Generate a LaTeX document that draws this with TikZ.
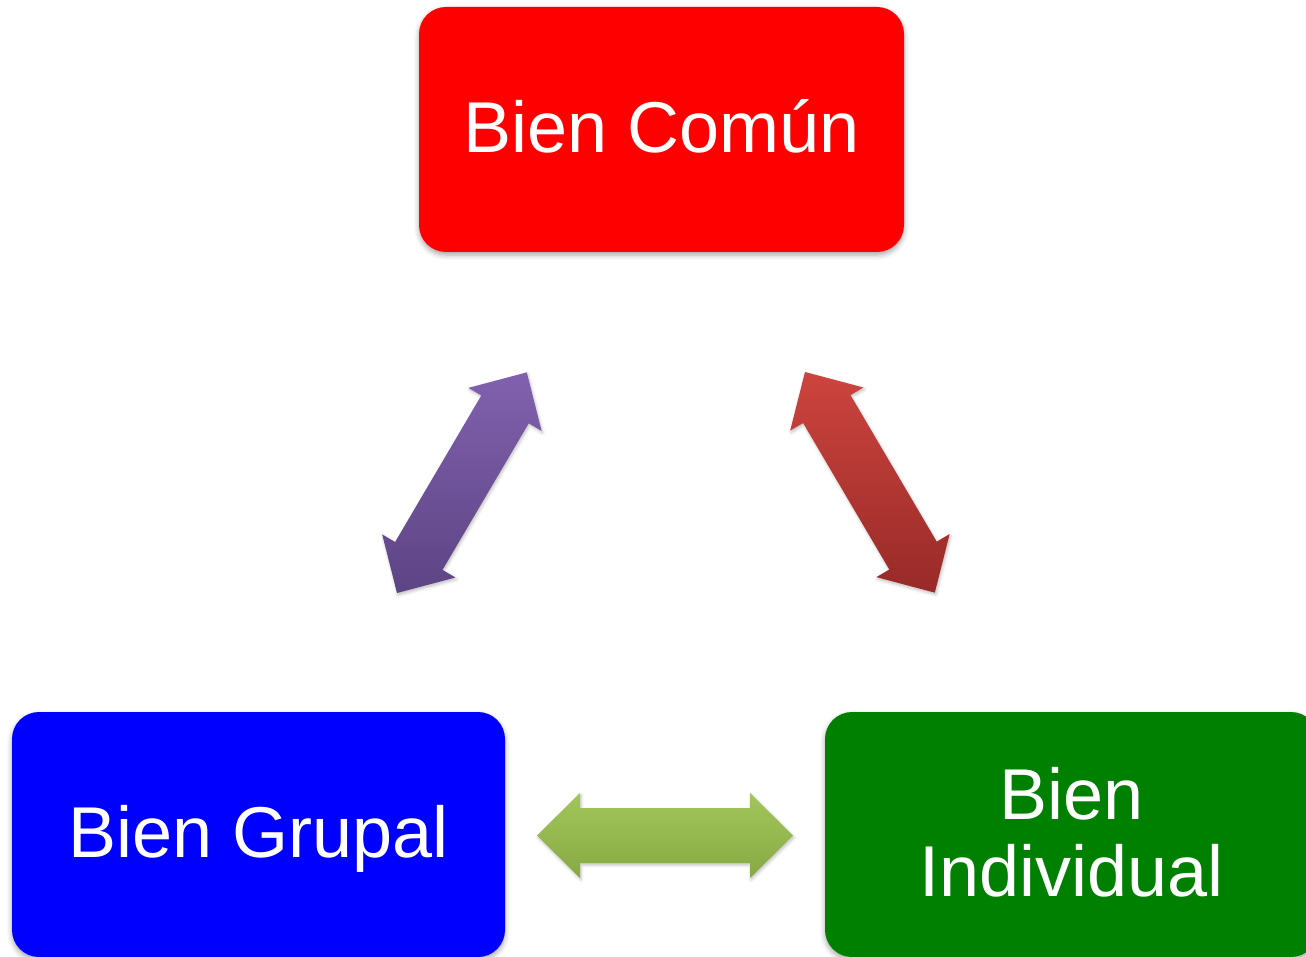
\documentclass[tikz,border=0pt]{standalone}
\usepackage{fontspec}
\setmainfont{Liberation Sans}
\usetikzlibrary{shadows.blur}
\definecolor{boxred}{HTML}{FF0000}
\definecolor{boxblue}{HTML}{0000FF}
\definecolor{boxgreen}{HTML}{008000}
\definecolor{purplelight}{HTML}{8161AE}
\definecolor{purpledark}{HTML}{5D4484}
\definecolor{redlight}{HTML}{CD443E}
\definecolor{reddark}{HTML}{982A28}
\definecolor{greenlight}{HTML}{A3C65B}
\definecolor{greendark}{HTML}{86A943}
\begin{document}
\begin{tikzpicture}[x=1pt,y=-1pt,
  boxbase/.style={rectangle, rounded corners=27pt, inner sep=0pt, text=white,
    minimum height=245pt, font=\fontsize{72}{77}\selectfont,
    blur shadow={shadow xshift=0pt, shadow yshift=-3pt, shadow blur radius=5pt, shadow opacity=35}},
  onebox/.style={boxbase, text height=52pt, text depth=6pt},
  arrowshadow/.style={blur shadow={shadow xshift=1pt, shadow yshift=-2pt, shadow blur radius=3pt, shadow opacity=25}}]
\useasboundingbox (0,0) rectangle (1306,957);
\clip (0,0) rectangle (1306,957);

% boxes
\node[onebox, fill=boxred, minimum width=485pt] (comun) at (661.5,129.5) {Bien Común};
\node[onebox, fill=boxblue, minimum width=493pt] (grupal) at (258.5,834.5) {Bien Grupal};
\node[boxbase, fill=boxgreen, minimum width=493pt, align=center, text depth=6pt] (individual) at (1071.5,834.5) {Bien\\Individual};

% arrow tails
\coordinate (pa) at (397,593);
\coordinate (ra) at (805,372);
\coordinate (ga) at (537,835.5);

% purple arrow (Bien Grupal <-> Bien Común)
\begin{scope}[shift={(pa)}, rotate=59.53]
\path[arrowshadow, top color=purplelight, bottom color=purpledark]
  (0,0) -- (43,42.5) -- (43,27.5) -- (213,27.5) -- (213,42.5) -- (256,0)
  -- (213,-42.5) -- (213,-27.5) -- (43,-27.5) -- (43,-42.5) -- cycle;
\end{scope}

% red arrow (Bien Común <-> Bien Individual)
\begin{scope}[shift={(ra)}, rotate=-59.53]
\path[arrowshadow, top color=redlight, bottom color=reddark]
  (0,0) -- (43,42.5) -- (43,27.5) -- (213,27.5) -- (213,42.5) -- (256,0)
  -- (213,-42.5) -- (213,-27.5) -- (43,-27.5) -- (43,-42.5) -- cycle;
\end{scope}

% green arrow (Bien Grupal <-> Bien Individual)
\begin{scope}[shift={(ga)}]
\path[arrowshadow, top color=greenlight, bottom color=greendark]
  (0,0) -- (43,42.5) -- (43,27.5) -- (213,27.5) -- (213,42.5) -- (256,0)
  -- (213,-42.5) -- (213,-27.5) -- (43,-27.5) -- (43,-42.5) -- cycle;
\end{scope}
\end{tikzpicture}
\end{document}
